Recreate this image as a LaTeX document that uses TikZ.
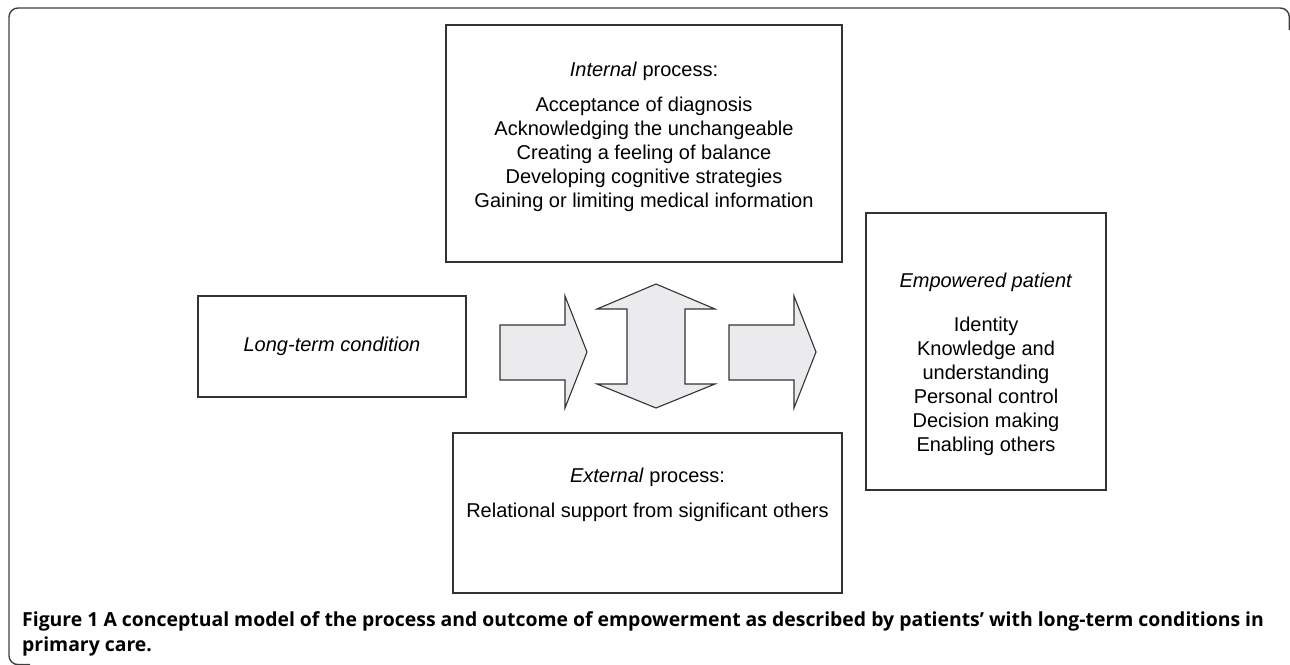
\documentclass[tikz,border=0pt]{standalone}
\usepackage{fontspec}
\setmainfont{Liberation Sans}
\newfontfamily\capfont{Open Sans}
\definecolor{linegray}{HTML}{333333}
\definecolor{arrowfill}{HTML}{EBEBED}

\begin{document}
\begin{tikzpicture}[x=1pt,y=-1pt,
    box/.style={draw=linegray, line width=1.2pt, inner sep=0pt},
    boxtext/.style={anchor=north, align=center, inner sep=0pt,
      font=\fontsize{20}{24}\selectfont},
    blockarrow/.style={draw=linegray, line width=1.1pt, fill=arrowfill, line join=miter}]
    \useasboundingbox (0,0) rectangle (1290,664);
    % outer frame
    \draw[line width=1.4pt, draw=black!75, rounded corners=9pt]
      (1289.3,30) -- (1289.3,8) -- (9,8) -- (9,664.6) -- (30,664.6);

    \node[box, minimum width=268pt, minimum height=101pt] (cond) at (332,346.5)
      {\fontsize{20}{24}\selectfont\itshape Long-term condition};

    \node[box, minimum width=396pt, minimum height=237pt] (internal) at (644,143.5) {};
    \node[boxtext] (internaltext) at (644,62)
      {\textit{Internal} process:\\[11pt]
       Acceptance of diagnosis\\
       Acknowledging the unchangeable\\
       Creating a feeling of balance\\
       Developing cognitive strategies\\
       Gaining or limiting medical information};

    \node[box, minimum width=389pt, minimum height=160pt] (external) at (647.5,513) {};
    \node[boxtext] (externaltext) at (647.5,467.5)
      {\textit{External} process:\\[11pt]
       Relational support from significant others};

    \node[box, minimum width=240pt, minimum height=277pt] (patient) at (986,351.5) {};
    \node[boxtext] (patienttext) at (986,272.5)
      {\textit{Empowered patient}\\[20pt]
       Identity\\
       Knowledge and\\
       understanding\\
       Personal control\\
       Decision making\\
       Enabling others};

    % block arrows
    \filldraw[blockarrow] (500,325) -- (565,325) -- (565,296) -- (587,352)
      -- (565,408) -- (565,380) -- (500,380) -- cycle;
    \filldraw[blockarrow] (656,284) -- (715,309) -- (685,309) -- (685,384)
      -- (715,384) -- (656,408) -- (597,384) -- (627,384) -- (627,309)
      -- (597,309) -- cycle;
    \filldraw[blockarrow] (729,325) -- (794,325) -- (794,296) -- (816,352)
      -- (794,408) -- (794,380) -- (729,380) -- cycle;

    \node[anchor=north west, inner sep=0pt, align=left,
      font=\capfont\bfseries\fontsize{19.4}{25.5}\selectfont] (caption) at (22,611)
      {Figure 1 A conceptual model of the process and outcome of empowerment as described by patients’ with long-term conditions in\\
       primary care.};
\end{tikzpicture}
\end{document}
